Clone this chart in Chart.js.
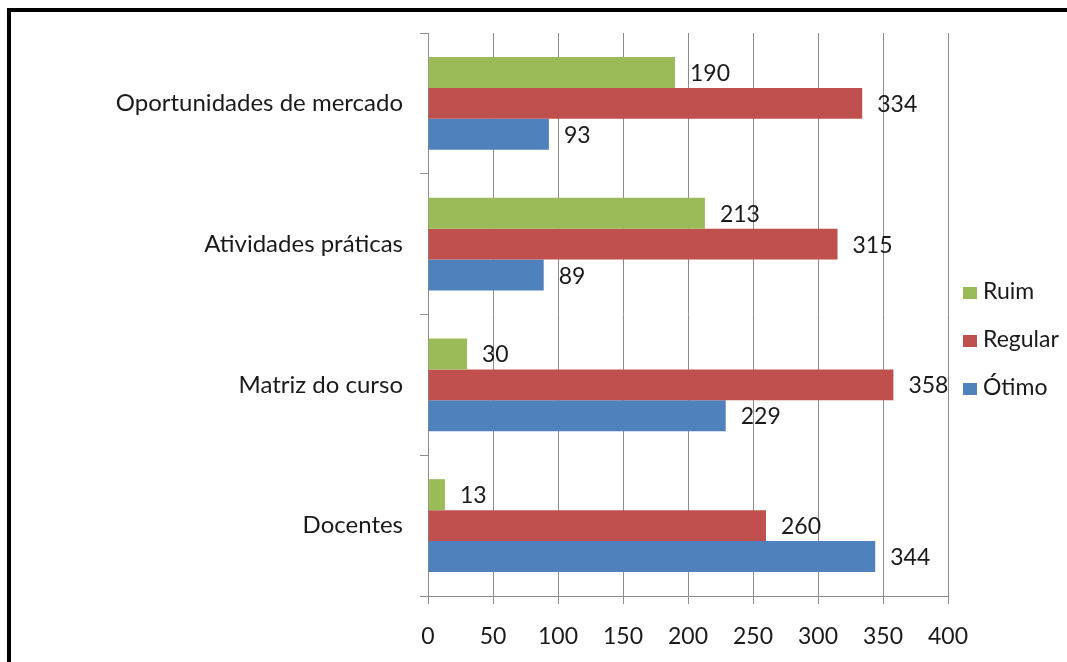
<!DOCTYPE html>
<html>
<head>
<meta charset="utf-8">
<script src="https://cdn.jsdelivr.net/npm/chart.js@4/dist/chart.umd.min.js"></script>
<style>
  html, body { margin: 0; padding: 0; background: #fff; overflow: hidden; }
  #frame { position: absolute; left: 7px; top: 8px; width: 1200px; height: 800px; border: 4px solid #000; }
  #chart { position: absolute; left: 0; top: 0; }
</style>
</head>
<body>
<div id="frame"></div>
<canvas id="chart" width="1067" height="662"></canvas>
<script>
// chart data
const categories = ['Oportunidades de mercado', 'Atividades práticas', 'Matriz do curso', 'Docentes'];
const seriesNames = ['Ruim', 'Regular', 'Ótimo'];
const ruim = [190, 213, 30, 13];
const regular = [334, 315, 358, 260];
const otimo = [93, 89, 229, 344];
const xTicks = [0, 50, 100, 150, 200, 250, 300, 350, 400];
const colors = ['#9BBB59', '#C0504D', '#4F81BD'];

const FONT = 'Lato, "Liberation Sans", sans-serif';
const GRID = '#8c8c8c';
const TEXT = '#1a1a1a';

// value labels to the right of each bar
const valueLabels = {
  id: 'valueLabels',
  afterDatasetsDraw(chart) {
    const ctx = chart.ctx;
    ctx.save();
    ctx.font = '23px ' + FONT;
    ctx.fillStyle = TEXT;
    ctx.textAlign = 'left';
    ctx.textBaseline = 'middle';
    chart.data.datasets.forEach((ds, i) => {
      chart.getDatasetMeta(i).data.forEach((bar, j) => {
        ctx.fillText(ds.data[j], bar.x + 15, bar.y + 1);
      });
    });
    ctx.restore();
  }
};

// legend on the right, Excel style
const sideLegend = {
  id: 'sideLegend',
  afterDraw(chart) {
    const ctx = chart.ctx;
    ctx.save();
    ctx.font = '23px ' + FONT;
    ctx.textBaseline = 'middle';
    chart.data.datasets.forEach((ds, i) => {
      const y = 292 + i * 48;
      ctx.fillStyle = ds.backgroundColor;
      ctx.fillRect(963, y - 5, 14, 12);
      ctx.fillStyle = TEXT;
      ctx.fillText(ds.label, 983, y);
    });
    ctx.restore();
  }
};

new Chart(document.getElementById('chart'), {
  type: 'bar',
  data: {
    labels: categories,
    datasets: [
      { label: seriesNames[0], data: ruim, backgroundColor: colors[0] },
      { label: seriesNames[1], data: regular, backgroundColor: colors[1] },
      { label: seriesNames[2], data: otimo, backgroundColor: colors[2] }
    ]
  },
  options: {
    indexAxis: 'y',
    responsive: false,
    animation: false,
    layout: { padding: { top: 33, right: 119, left: 0, bottom: 0 } },
    datasets: { bar: { categoryPercentage: 0.66, barPercentage: 1.0 } },
    plugins: { legend: { display: false }, tooltip: { enabled: false } },
    scales: {
      x: {
        min: 0, max: 400,
        afterBuildTicks(scale) { scale.ticks = xTicks.map(v => ({ value: v })); },
        afterFit(scale) { scale.height = 66; },
        grid: { color: GRID, lineWidth: 1, tickLength: 8, drawTicks: true },
        border: { color: GRID, width: 1 },
        ticks: { color: TEXT, font: { family: FONT, size: 23 }, padding: 19 }
      },
      y: {
        afterFit(scale) { scale.width = 428; },
        grid: { drawOnChartArea: false, color: GRID, tickLength: 8 },
        border: { color: GRID, width: 1 },
        ticks: { color: TEXT, font: { family: FONT, size: 24 }, padding: 17 }
      }
    }
  },
  plugins: [valueLabels, sideLegend]
});
</script>
</body>
</html>
